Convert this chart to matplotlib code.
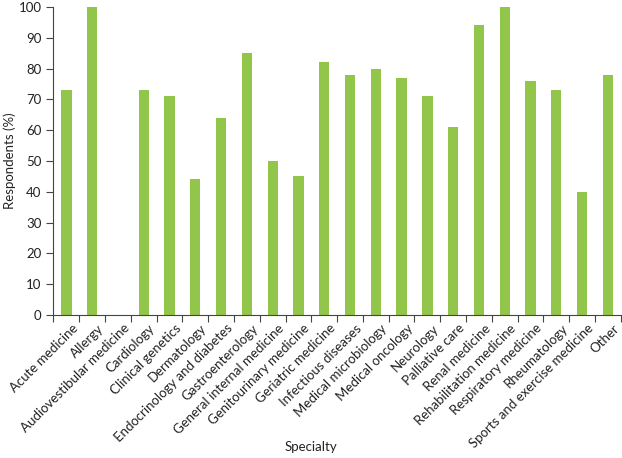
import numpy as np
import matplotlib.pyplot as plt
import matplotlib.transforms as mtransforms

specialties = ["Acute medicine", "Allergy", "Audiovestibular medicine", "Cardiology",
               "Clinical genetics", "Dermatology", "Endocrinology and diabetes",
               "Gastroenterology", "General internal medicine", "Genitourinary medicine",
               "Geriatric medicine", "Infectious diseases", "Medical microbiology",
               "Medical oncology", "Neurology", "Palliative care", "Renal medicine",
               "Rehabilitation medicine", "Respiratory medicine", "Rheumatology",
               "Sports and exercise medicine", "Other"]
respondents = [73, 100, 0, 73, 71, 44, 64, 85, 50, 45, 82, 78, 80, 77, 71, 61, 94,
               100, 76, 73, 40, 78]

plt.rcParams['font.family'] = ['Lato', 'DejaVu Sans']

fig = plt.figure(figsize=(6.22, 4.58), dpi=100)
ax = fig.add_axes([0.086, 0.312, 0.912, 0.673])

x = np.arange(len(specialties))
ax.bar(x, respondents, width=0.4, color="#92c64a")

ax.set_xlim(-0.5, len(specialties) - 0.5)
ax.set_ylim(0, 100)
ax.set_yticks(range(0, 101, 10))

# ticks on category boundaries, labels at centres
ax.set_xticks(np.arange(-0.5, len(specialties), 1.0))
ax.set_xticklabels([])
ax.set_xticks(x, minor=True)
ax.set_xticklabels(specialties, minor=True, rotation=45, ha="right",
                   rotation_mode="anchor", fontsize=9.5, color="#222222")
ax.tick_params(axis="x", which="minor", length=0, pad=5)
ax.tick_params(axis="x", which="major", length=5, color="#444444")
ax.tick_params(axis="y", labelsize=9.5, labelcolor="#222222", length=5, color="#444444")

# nudge labels right so they end just under their bars
shift = mtransforms.ScaledTranslation(5 / 100, 0, fig.dpi_scale_trans)
for lbl in ax.get_xticklabels(minor=True):
    lbl.set_transform(lbl.get_transform() + shift)

for s in ["top", "right"]:
    ax.spines[s].set_visible(False)
for s in ["left", "bottom"]:
    ax.spines[s].set_color("#444444")

fig.text(0.015, 0.65, "Respondents (%)", rotation=90, ha="center", va="center",
         fontsize=9.5, color="#222222")
fig.text(0.5, 0.024, "Specialty", ha="center", va="center", fontsize=9.5, color="#222222")

fig.savefig("out.png", dpi=100)
